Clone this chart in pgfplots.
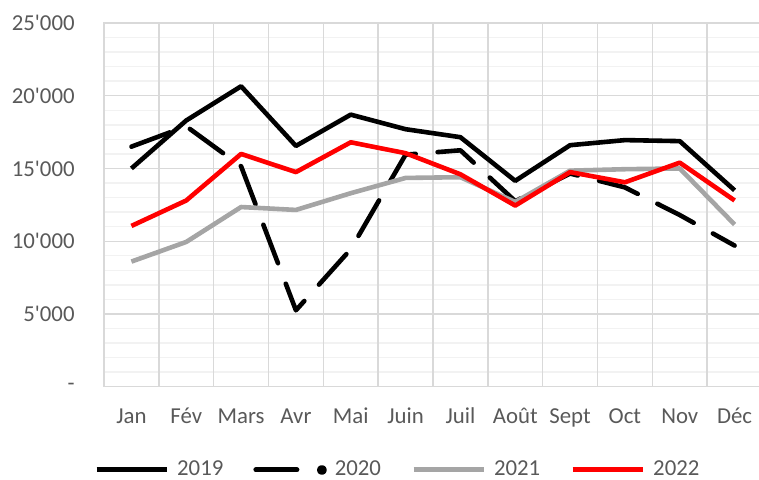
\documentclass[border=0pt]{standalone}
\usepackage{pgfplots}
\pgfplotsset{compat=1.18}
\usepackage{fontspec}
\setmainfont{Carlito}
\definecolor{txt}{HTML}{595959}
\definecolor{gmaj}{HTML}{D9D9D9}
\definecolor{gmin}{HTML}{F2F2F2}
\definecolor{g21}{HTML}{A5A5A5}
\definecolor{r22}{HTML}{FF0000}
\newcommand{\q}{\textquotesingle}
\begin{document}
\begin{tikzpicture}
\begin{axis}[
  name=ax,
  scale only axis,
  width=329pt, height=181.85pt,
  xmin=-0.5, xmax=11.5,
  ymin=0, ymax=25000,
  xtick={0,1,2,3,4,5,6,7,8,9,10,11},
  xticklabels={Jan,Fév,Mars,Avr,Mai,Juin,Juil,Août,Sept,Oct,Nov,Déc},
  extra x ticks={0.5,1.5,2.5,3.5,4.5,5.5,6.5,7.5,8.5,9.5,10.5},
  extra x tick labels={},
  extra x tick style={grid=major, major grid style={draw=gmaj, line width=0.7pt}},
  ytick={0,5000,10000,15000,20000,25000},
  yticklabels={-\hspace{6pt},5\q000,10\q000,15\q000,20\q000,25\q000},
  minor ytick={1000,2000,3000,4000,6000,7000,8000,9000,11000,12000,13000,14000,16000,17000,18000,19000,21000,22000,23000,24000},
  ymajorgrids, yminorgrids,
  major grid style={draw=gmaj, line width=0.7pt},
  minor grid style={draw=gmin, line width=0.7pt},
  major tick length=0pt, minor tick length=0pt,
  axis line style={draw=gmaj, line width=0.7pt},
  tick style={draw=none},
  scaled y ticks=false,
  yticklabel style={anchor=east, inner sep=0pt, xshift=-14.5pt, font=\fontsize{11.4}{13}\selectfont, text=txt},
  xticklabel style={anchor=base, inner sep=0pt, yshift=-18.65pt, font=\fontsize{11.4}{13}\selectfont, text=txt},
  legend columns=4,
  legend style={draw=none, fill=none, at={(0.445,-0.229)}, anchor=center,
    inner sep=0pt, font=\fontsize{11.4}{13}\selectfont, text=txt,
    nodes={inner sep=0pt},
    /tikz/every odd column/.append style={column sep=4pt},
    /tikz/every even column/.append style={column sep=15pt}},
  legend image code/.code={\draw[#1, line width=2.5pt] (0pt,0pt) -- (35pt,0pt);},
  every axis plot/.append style={line width=2.3pt, line join=round},
]
\addplot[black] coordinates {(0,15000) (1,18300) (2,20650) (3,16550) (4,18700) (5,17700) (6,17150) (7,14150) (8,16600) (9,16950) (10,16880) (11,13500)};
\addlegendentry{2019}
\addplot[black, line cap=round, dash pattern=on 20.5pt off 11pt,
  legend image code/.code={\draw[black, line width=2.5pt, line cap=round] (1pt,0pt) -- (23pt,0pt); \fill[black] (34pt,0pt) circle (1.3pt);}]
  coordinates {(0,16500) (1,17900) (2,15150) (3,5250) (4,9450) (5,15950) (6,16250) (7,12750) (8,14650) (9,13700) (10,11800) (11,9700)};
\addlegendentry{2020}
\addplot[g21] coordinates {(0,8600) (1,9950) (2,12350) (3,12150) (4,13300) (5,14350) (6,14400) (7,12700) (8,14850) (9,14950) (10,15000) (11,11150)};
\addlegendentry{2021}
\addplot[r22] coordinates {(0,11050) (1,12800) (2,16000) (3,14750) (4,16800) (5,16050) (6,14600) (7,12450) (8,14750) (9,14050) (10,15400) (11,12800)};
\addlegendentry{2022}
\end{axis}
\pgfresetboundingbox
\path[use as bounding box] ([xshift=-52pt,yshift=-46.65pt]ax.south west) rectangle ([xshift=327.5pt,yshift=11.5pt]ax.north west);
\end{tikzpicture}
\end{document}
